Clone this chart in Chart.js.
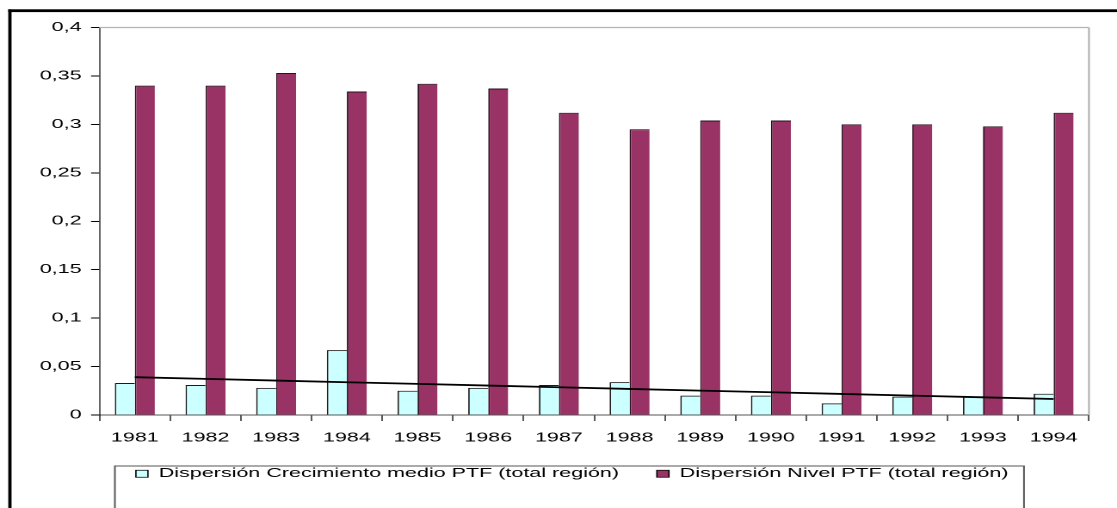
<!DOCTYPE html>
<html>
<head>
<meta charset="utf-8">
<script src="https://cdn.jsdelivr.net/npm/chart.js@4/dist/chart.umd.min.js"></script>
<style>
  html, body { margin: 0; padding: 0; background: #fff; overflow: hidden; }
  /* the chart is laid out narrow and widened, which gives the broad lettering */
  #wrap { position: absolute; left: 0; top: 0; width: 649px; height: 508px;
          transform: scaleX(1.72111); transform-origin: 0 0; }
  canvas { display: block; }
</style>
</head>
<body>
<div id="wrap"><canvas id="c" width="649" height="508"></canvas></div>
<script>
const years = ['1981', '1982', '1983', '1984', '1985', '1986', '1987',
               '1988', '1989', '1990', '1991', '1992', '1993', '1994'];

// dispersion of mean TFP growth (whole region)
const growthDispersion = [0.033, 0.031, 0.028, 0.067, 0.025, 0.028, 0.031,
                          0.034, 0.020, 0.020, 0.012, 0.019, 0.019, 0.022];

// dispersion of TFP level (whole region)
const levelDispersion = [0.340, 0.340, 0.353, 0.334, 0.342, 0.337, 0.312,
                         0.295, 0.304, 0.304, 0.300, 0.300, 0.298, 0.312];

const yTickLabels = ['0', '0,05', '0,1', '0,15', '0,2', '0,25', '0,3', '0,35', '0,4'];

const seriesNames = ['Dispersión Crecimiento medio PTF (total región)',
                     'Dispersión Nivel PTF (total región)'];

// ordinary least-squares linear trend through a series
function linearTrend(values) {
  const n = values.length;
  let sx = 0, sy = 0, sxx = 0, sxy = 0;
  values.forEach((v, i) => { sx += i; sy += v; sxx += i * i; sxy += i * v; });
  const slope = (n * sxy - sx * sy) / (n * sxx - sx * sx);
  const icpt = (sy - slope * sx) / n;
  return values.map((_, i) => icpt + slope * i);
}
const growthTrend = linearTrend(growthDispersion);

const FONT = "'Liberation Sans', Arial, sans-serif";

const framePlugin = {
  id: 'frame',
  afterLayout(chart) {
    // the value axis is kept narrow for the legend's placement; let its labels
    // spill into the left margin instead of being clipped
    chart.scales.y.left = 0;
  },
  beforeDraw(chart) {
    const ctx = chart.ctx;
    ctx.save();
    ctx.fillStyle = '#fff';
    ctx.fillRect(0, 0, chart.width, chart.height);
    ctx.restore();
  },
  beforeDatasetsDraw(chart) {
    const { ctx, chartArea: a } = chart;
    ctx.save();
    ctx.strokeStyle = '#b4b4b4';
    ctx.lineWidth = 1.3;
    ctx.beginPath();
    ctx.moveTo(a.left, a.top);
    ctx.lineTo(a.right, a.top);
    ctx.stroke();
    ctx.lineWidth = 1.1;
    ctx.beginPath();
    ctx.moveTo(a.right, a.top);
    ctx.lineTo(a.right, a.bottom);
    ctx.stroke();
    ctx.restore();
  },
  afterDraw(chart) {
    const ctx = chart.ctx;
    ctx.save();
    // outer chart frame (left and top edges)
    ctx.fillStyle = '#000';
    ctx.fillRect(4.8, 9.3, chart.width, 2.8);
    ctx.fillRect(4.8, 9.3, 1.9, chart.height);
    // legend frame
    const hb = chart.legend.legendHitBoxes;
    if (hb && hb.length) {
      const first = hb[0], last = hb[hb.length - 1];
      const l = first.left - 12.2;
      const r = last.left + last.width + 9;
      const t = first.top - 1.5;
      ctx.strokeStyle = '#555';
      ctx.lineWidth = 1;
      ctx.strokeRect(l, t, r - l, chart.height + 20 - t);
    }
    ctx.restore();
  }
};

new Chart(document.getElementById('c'), {
  data: {
    labels: years,
    datasets: [
      {
        type: 'bar',
        label: seriesNames[0],
        data: growthDispersion,
        backgroundColor: '#ccffff',
        borderColor: '#1a1a1a',
        borderWidth: { top: 1, left: 0.9, right: 0, bottom: 0 },
        borderSkipped: 'start',
        order: 1
      },
      {
        type: 'bar',
        label: seriesNames[1],
        data: levelDispersion,
        backgroundColor: '#993366',
        borderColor: '#2a0f1e',
        borderWidth: { top: 1, left: 0.9, right: 0, bottom: 0 },
        borderSkipped: 'start',
        order: 1
      },
      {
        type: 'line',
        label: 'trend',
        data: growthTrend,
        borderColor: '#000',
        borderWidth: 1.8,
        pointRadius: 0,
        pointHoverRadius: 0,
        fill: false,
        tension: 0,
        order: 0
      }
    ]
  },
  options: {
    responsive: false,
    animation: false,
    devicePixelRatio: 2,
    layout: { padding: { top: 27.5, left: 32.2, right: 16.3, bottom: 18 } },
    datasets: {
      bar: { categoryPercentage: 0.566, barPercentage: 1.0 }
    },
    scales: {
      x: {
        offset: true,
        afterFit(scale) { scale.height = 30.5; },
        grid: {
          offset: true,
          drawOnChartArea: false,
          drawTicks: true,
          tickLength: 6,
          tickColor: '#222',
          tickWidth: 0.75
        },
        border: { display: true, color: '#555', width: 1 },
        ticks: {
          color: '#000',
          padding: 9.5,
          maxRotation: 0,
          autoSkip: false,
          font: { family: FONT, size: 12.5 }
        }
      },
      y: {
        min: 0,
        max: 0.4,
        afterFit(scale) { scale.width = 25.6; },
        grid: {
          drawOnChartArea: false,
          drawTicks: true,
          tickLength: 4.9,
          tickColor: '#000',
          tickWidth: 1
        },
        border: { display: true, color: '#000', width: 0.6 },
        ticks: {
          stepSize: 0.05,
          color: '#000',
          padding: 5.5,
          font: { family: FONT, size: 12.5 },
          callback: (v, i) => yTickLabels[i]
        }
      }
    },
    plugins: {
      tooltip: { enabled: false },
      legend: {
        position: 'bottom',
        align: 'center',
        labels: {
          color: '#000',
          font: { family: FONT, size: 12.5 },
          boxWidth: 7,
          boxHeight: 7,
          padding: 22,
          generateLabels(chart) {
            return Chart.defaults.plugins.legend.labels.generateLabels(chart)
              .filter(it => it.datasetIndex < 2)
              .map(it => Object.assign(it, { lineWidth: 0.8, strokeStyle: '#000' }));
          }
        }
      }
    }
  },
  plugins: [framePlugin]
});
</script>
</body>
</html>
